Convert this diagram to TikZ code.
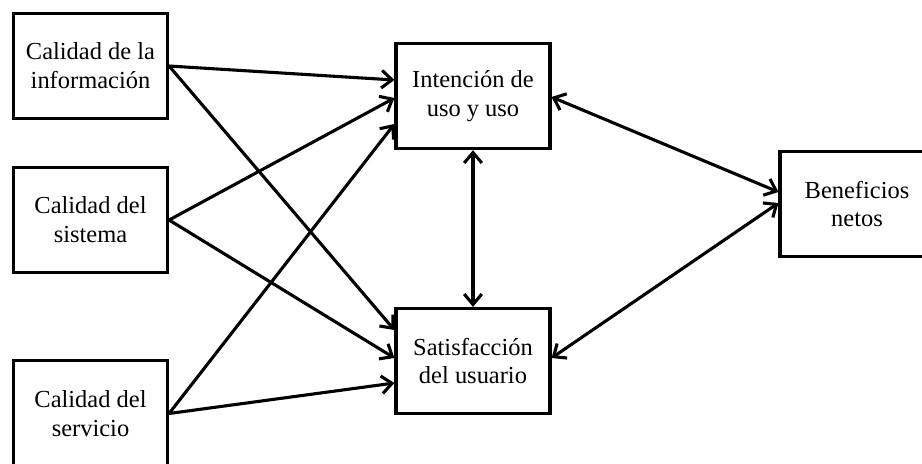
\documentclass[tikz,border=0pt]{standalone}
\usepackage{fontspec}
\setmainfont{Liberation Serif}
\usetikzlibrary{arrows.meta,calc}
\tikzstyle{block}=[draw,line width=2.2pt,minimum width=3.85cm,minimum height=2.63cm,inner sep=0pt,align=center,font=\fontsize{17.4}{20.6}\selectfont]
\tikzstyle{edge} = [draw,line width=2.2pt,-{Straight Barb[length=2.6mm,width=4.4mm]}]
\tikzstyle{biedge} = [draw,line width=2.2pt,{Straight Barb[length=2.6mm,width=4.4mm]}-{Straight Barb[length=2.6mm,width=4.4mm]}]
\begin{document}
\begin{tikzpicture}[x=0.025cm, y=-0.025cm]

   \useasboundingbox (0,0) rectangle (922,463);

%factores
    \foreach \pos/\name/\txt in {{(90.5,66)/info/{Calidad de la\\información}}, {(90.5,220)/sist/{Calidad del\\sistema}}, {(90.5,413.5)/serv/{Calidad del\\servicio}}}
        \node[block] (\name) at \pos {\txt};

%uso, satisfaccion, beneficios
    \foreach \pos/\name/\txt in {{(473,96)/uso/{Intención de\\uso y uso}}, {(473,361)/sat/{Satisfacción\\del usuario}}, {(857,204)/ben/{Beneficios\\netos}}}
        \node[block] (\name) at \pos {\txt};

    % Connect factors with uso and sat
    \foreach \source/ \dest /\dy in {info/uso/-16, info/sat/-31, sist/uso/2, sist/sat/-3, serv/uso/28, serv/sat/22}
        \path[edge] (\source.east) -- ($(\dest.west)+(0,\dy)$);

    % both ways
    \path[biedge] (uso.south) -- (sat.north);
    \path[biedge] ($(uso.east)+(0,1)$) -- ($(ben.west)+(0,-12)$);
    \path[biedge] ($(sat.east)+(0,-3)$) -- ($(ben.west)+(0,-1)$);

\end{tikzpicture}
\end{document}
